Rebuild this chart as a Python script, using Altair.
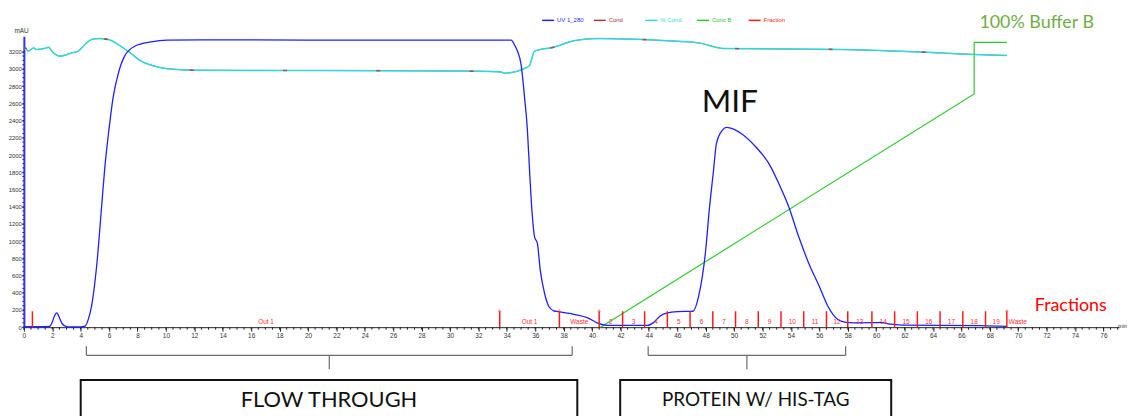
import altair as alt
import pandas as pd

# ---------------- data ----------------
series_names = ["UV 1_280", "Cond", "% Cond", "Conc B", "Fraction"]
series_colors = ["#1f1fff", "#a83a3a", "#2ed8d8", "#2ec82e", "#ff1a1a"]

uv_time = [0, 1.0, 1.8, 2.0, 2.15, 2.32, 2.5, 2.7, 3.0, 3.2,
           4.0, 4.3, 4.55, 4.76, 5.12, 5.47, 5.7, 5.98, 6.28, 6.63,
           7.09, 7.8, 8.96, 10.1, 12.5, 20, 30, 34.3, 34.6, 34.75,
           35.0, 35.25, 35.45, 35.6, 35.75, 35.95, 36.15, 36.35, 36.65, 36.95,
           37.3, 37.6, 38.8, 39.7, 40.35, 41.1, 43.9, 44.3, 44.8, 45.3,
           46.0, 47.1, 47.5, 48.0, 48.25, 48.55, 48.75, 49.15, 49.45, 49.75,
           50.55, 51.55, 52.45, 53.15, 53.85, 54.55, 55.25, 56.0, 56.6, 57.3,
           57.8, 58.5, 60.0, 60.3, 61.0, 61.8, 67.2, 69.2]
uv_mau = [5, 5, 8, 60, 130, 166, 110, 40, 8, 2,
          2, 12, 100, 243, 705, 1397, 1860, 2283, 2668, 2938,
          3149, 3264, 3314, 3334, 3338, 3336, 3336, 3336, 3260, 3207,
          3053, 2667, 2283, 1821, 1397, 1050, 974, 666, 397, 243,
          190, 180, 147, 108, 51, 22, 20, 50, 130, 165,
          180, 185, 358, 897, 1360, 1820, 2130, 2283, 2321, 2314,
          2245, 2090, 1900, 1667, 1397, 1050, 744, 473, 243, 89,
          58, 50, 52, 55, 35, 25, 18, 10]

cond_time = [0, 0.1, 0.3, 0.7, 0.85, 1.5, 1.75, 1.97, 2.56, 3.37,
             3.83, 4.3, 4.76, 5.24, 5.94, 6.63, 7.33, 8.26, 9.16, 10.1,
             12.5, 20, 30.6, 33.6, 33.8, 34.2, 35.2, 35.6, 35.95, 37.3,
             38.8, 40.4, 45.0, 47.5, 48.7, 49.2, 57.6, 62.7, 66.9, 69.2]
cond_val = [3225, 3245, 3207, 3245, 3226, 3240, 3253, 3207, 3149, 3187,
            3207, 3284, 3342, 3353, 3342, 3284, 3207, 3091, 3034, 3003,
            2984, 2982, 2976, 2966, 2950, 2955, 3003, 3040, 3207, 3253,
            3330, 3353, 3330, 3303, 3253, 3238, 3226, 3199, 3168, 3157]

concb_time = [40.6, 66.9, 66.9, 69.2]
concb_val = [0, 2710, 3310, 3310]

frac_ticks = [0.6, 33.5, 37.7, 40.5, 42.15, 43.7, 45.3, 46.9, 48.5, 50.1, 51.7,
              53.3, 54.9, 56.5, 58.0, 59.7, 61.3, 62.9, 64.5, 66.1, 67.7, 69.2]
frac_labels = ["Out 1", "Out 1", "Waste"] + [str(i) for i in range(2, 20)]
frac_last_label = "Waste"
caret_ticks = [33.5, 37.7, 40.5, 69.2]
frac_height = 185

x_tick_labels = list(range(0, 77, 2))
y_tick_labels = list(range(0, 3201, 200))

# ---------------- layout ----------------
X_MAX = 77.1
Y_MAX = 3380
W, H = 1103, 293

label_font = "Liberation Sans"
note_font = "Lato"

xs = alt.Scale(domain=[0, X_MAX], nice=False, zero=False)
ys = alt.Scale(domain=[0, Y_MAX], nice=False)

x_main = alt.X("t:Q", scale=xs, axis=alt.Axis(
    values=x_tick_labels, tickCount=200, title=None, format="d", labelFont=label_font,
    labelFontSize=6.5, labelColor="#333", tickSize=4, tickColor="#222",
    domainColor="#222", domainWidth=1, labelPadding=1, grid=False,
    labelFlush=False, labelOverlap=False))
y_main = alt.Y("v:Q", scale=ys, axis=alt.Axis(
    values=y_tick_labels, tickCount=200, format="d", title="mAU", titleAngle=0,
    titleFont=label_font, titleFontSize=6.5, titleFontWeight="normal", titleColor="#333",
    titleX=-10, titleY=-3, titleAlign="left", titleBaseline="bottom",
    labelFont=label_font, labelFontSize=6, labelColor="#333",
    tickSize=2, tickColor="#222", domainColor="#3030ff", domainWidth=2,
    grid=False, labelPadding=0.5, labelOverlap=False, labelFlush=False))

color_expr = " : ".join(
    f"datum.label == '{n}' ? '{c}'" for n, c in zip(series_names[:-1], series_colors[:-1])
) + f" : '{series_colors[-1]}'"

color = alt.Color("series:N", scale=alt.Scale(domain=series_names, range=series_colors),
                  legend=alt.Legend(title=None, orient="none", legendX=521, legendY=-23,
                                    direction="horizontal", columns=5, symbolType="stroke",
                                    symbolSize=144, symbolStrokeWidth=1.5,
                                    labelFont=label_font, labelFontSize=6,
                                    labelColor={"expr": color_expr}, labelOffset=2,
                                    columnPadding=7, gridAlign="all", padding=0, offset=0))

uv_df = pd.DataFrame({"t": uv_time, "v": uv_mau, "series": series_names[0]})
cond_df = pd.DataFrame({"t": cond_time, "v": cond_val, "series": series_names[1]})
pcond_df = pd.DataFrame({"t": cond_time, "v": cond_val, "series": series_names[2]})
concb_df = pd.DataFrame({"t": concb_time, "v": concb_val, "series": series_names[3]})
frac_df = pd.DataFrame({"t": frac_ticks, "series": series_names[4]})
mid_df = pd.DataFrame({"t": [(a + b) / 2 for a, b in zip(frac_ticks[:-1], frac_ticks[1:])],
                       "label": frac_labels})
last_df = pd.DataFrame({"t": [frac_ticks[-1]], "label": [frac_last_label]})
caret_df = pd.DataFrame({"t": caret_ticks})

base_x = alt.X("t:Q", scale=xs)
base_y = alt.Y("v:Q", scale=ys)

cond_line = alt.Chart(cond_df).mark_line(strokeWidth=0.8, interpolate="monotone").encode(
    x=x_main, y=y_main, color=color)
pcond_line = alt.Chart(pcond_df).mark_line(strokeWidth=1.5, interpolate="monotone").encode(
    x=base_x, y=base_y, color=color)
cond_spots = alt.Chart(cond_df).mark_line(strokeWidth=1.6, interpolate="monotone",
                                          color=series_colors[1], strokeDash=[4, 90],
                                          opacity=0.8).encode(x=base_x, y=base_y)
concb_line = alt.Chart(concb_df).mark_line(strokeWidth=1.2).encode(
    x=base_x, y=base_y, color=color)
uv_line = alt.Chart(uv_df).mark_line(strokeWidth=1.3, interpolate="monotone").encode(
    x=base_x, y=base_y, color=color)
frac_rules = alt.Chart(frac_df).mark_rule(strokeWidth=1.5).encode(
    x=base_x, y=alt.datum(0), y2=alt.datum(frac_height), color=color)
frac_text = alt.Chart(mid_df).mark_text(font=label_font, fontSize=6.5, color="#ff3030",
                                        baseline="middle").encode(
    x=base_x, y=alt.datum(55), text="label:N")
last_text = alt.Chart(last_df).mark_text(font=label_font, fontSize=6.5, color="#ff3030",
                                         baseline="middle", align="left", dx=2).encode(
    x=base_x, y=alt.datum(55), text="label:N")
caret_text = alt.Chart(caret_df).mark_text(font=label_font, fontSize=7, color="#ff3030",
                                           baseline="bottom", dy=4).encode(
    x=base_x, y=alt.datum(frac_height), text=alt.value("^"))

# minor axis ticks
minor_x = alt.Chart(pd.DataFrame({"t": [i * 0.5 for i in range(0, 155)]})).mark_rule(
    color="#222", strokeWidth=1).encode(x=base_x, y=alt.value(H), y2=alt.value(H + 2.5))
minor_y = alt.Chart(pd.DataFrame({"v": [i * 50 for i in range(0, 65)]})).mark_rule(
    color="#222", strokeWidth=1).encode(y=base_y, x=alt.value(-1.5), x2=alt.value(0))

# annotations
mif = alt.Chart(pd.DataFrame({"t": [49.7], "v": [2617], "label": ["MIF"]})).mark_text(
    font=note_font, fontSize=32, color="#111", baseline="middle").encode(
    x=base_x, y=base_y, text="label:N")
bufb = alt.Chart(pd.DataFrame({"t": [71.3], "v": [3530], "label": ["100% Buffer B"]})).mark_text(
    font=note_font, fontSize=18, color="#70ad47", baseline="middle").encode(
    x=base_x, y=base_y, text="label:N")
fr = alt.Chart(pd.DataFrame({"t": [73.7], "v": [250], "label": ["Fractions"]})).mark_text(
    font=note_font, fontSize=18, color="#ff0000", baseline="middle").encode(
    x=base_x, y=base_y, text="label:N")
mint = alt.Chart(pd.DataFrame({"t": [X_MAX], "v": [0], "label": ["min"]})).mark_text(
    font=label_font, fontSize=6, color="#333", baseline="middle", align="left", dx=-1, dy=-1).encode(
    x=base_x, y=base_y, text="label:N")

brackets = [(4.4, 38.6), (43.95, 57.85)]
br_rows = []
for a, b in brackets:
    c = (a + b) / 2
    br_rows += [
        {"t": a, "t2": b, "v": -327, "v2": -327},
        {"t": a, "t2": a, "v": -223, "v2": -327},
        {"t": b, "t2": b, "v": -223, "v2": -327},
        {"t": c, "t2": c, "v": -327, "v2": -488},
    ]
br = alt.Chart(pd.DataFrame(br_rows)).mark_rule(color="#6b6b6b", strokeWidth=1.2).encode(
    x=base_x, x2="t2:Q", y=base_y, y2="v2:Q")

boxes = pd.DataFrame({"t": [4.0, 41.98], "t2": [38.96, 61.06],
                      "label": ["FLOW THROUGH", "PROTEIN W/ HIS-TAG"]})
box = alt.Chart(boxes).mark_rect(filled=False, stroke="#111", strokeWidth=2).encode(
    x=base_x, x2="t2:Q", y=alt.datum(-615), y2=alt.datum(-1400))
box_t1 = alt.Chart(boxes.iloc[[0]]).transform_calculate(tc="(datum.t + datum.t2) / 2").mark_text(
    font=note_font, fontSize=22, color="#111", baseline="middle").encode(
    x=alt.X("tc:Q", scale=xs), y=alt.datum(-846), text="label:N")
box_t2 = alt.Chart(boxes.iloc[[1]]).transform_calculate(tc="(datum.t + datum.t2) / 2").mark_text(
    font=note_font, fontSize=19, color="#111", baseline="middle").encode(
    x=alt.X("tc:Q", scale=xs), y=alt.datum(-846), text="label:N")

chart = alt.layer(
    cond_line, pcond_line, cond_spots, concb_line, uv_line, frac_rules,
    frac_text, last_text, caret_text, minor_x, minor_y,
    mif, bufb, fr, mint, br, box, box_t1, box_t2
).properties(
    width=W, height=H,
    padding={"left": 16, "top": 27, "right": 8, "bottom": 88},
    autosize=alt.AutoSizeParams(type="none"),
    background="white"
).configure_view(stroke=None)

chart.save("out.html", embed_options={"renderer": "svg", "actions": False})
